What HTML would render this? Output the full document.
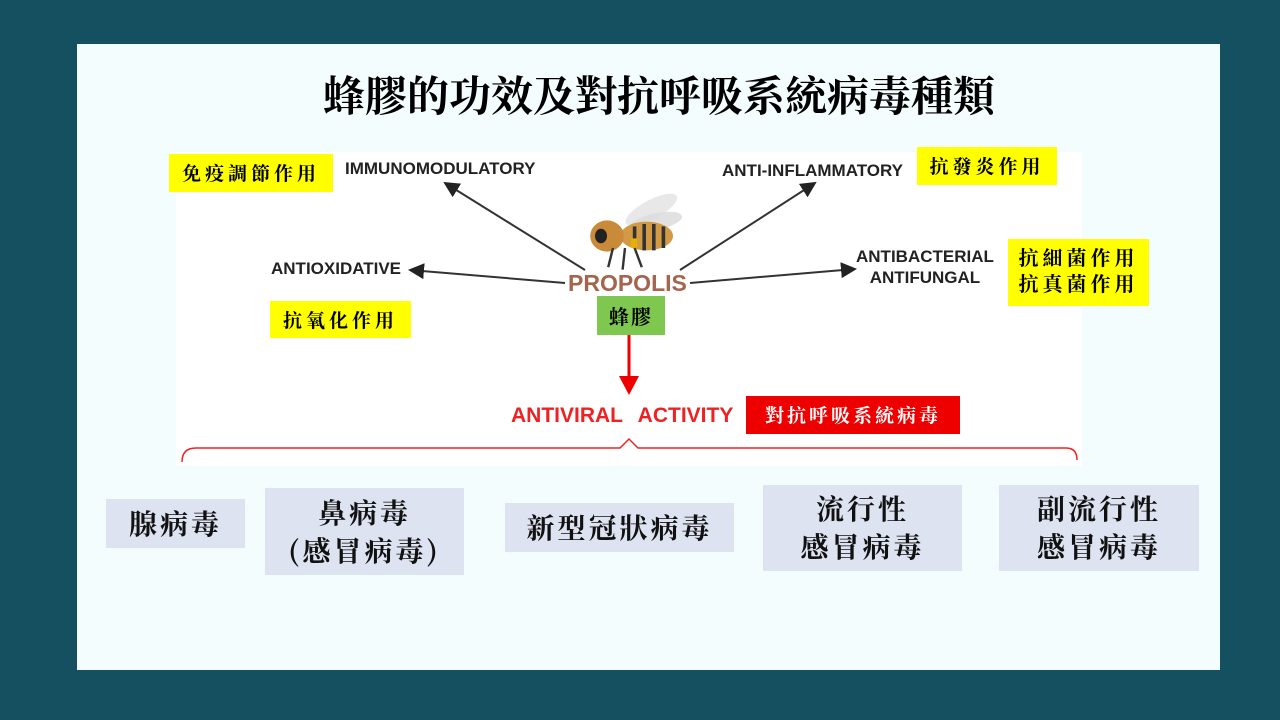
<!DOCTYPE html>
<html><head><meta charset="utf-8"><style>
body{margin:0;width:1280px;height:720px;overflow:hidden;background:#14505f;position:relative;font-family:"Liberation Sans","Noto Sans CJK TC",sans-serif}
.abs{position:absolute}
.panel{left:77px;top:44px;width:1143px;height:626px;background:#f4fdfd}
.inner{left:176px;top:152px;width:906px;height:314px;background:#fff}
.cjk{font-family:"Noto Serif CJK SC","Noto Sans CJK TC",serif;font-weight:700}
.y{background:#ffff00;color:#000;font-size:19px;text-align:center;line-height:1.3;letter-spacing:4px}
.lab{font-weight:700;font-size:17px;color:#222}
.box{background:#dde3f1;color:#111;font-size:28px;letter-spacing:3px;text-align:center;display:flex;align-items:center;justify-content:center;line-height:1.35}
</style></head><body>
<div class="abs panel"></div>
<div class="abs inner"></div>
<div class="abs cjk" style="left:0;width:1318px;top:64px;text-align:center;font-size:42px;color:#000">蜂膠的功效及對抗呼吸系統病毒種類</div>
<svg class="abs" style="left:0;top:0" width="1280" height="720">
<defs><marker id="a" markerWidth="8" markerHeight="8" refX="7" refY="4" orient="auto"><path d="M0,0L8,4L0,8z" fill="#222"/></marker></defs>
<g stroke="#333" stroke-width="2" fill="none">
<line x1="585" y1="270" x2="445" y2="183" marker-end="url(#a)"/>
<line x1="565" y1="283" x2="410" y2="270" marker-end="url(#a)"/>
<line x1="680" y1="270" x2="815" y2="183" marker-end="url(#a)"/>
<line x1="690" y1="283" x2="855" y2="269" marker-end="url(#a)"/>
</g>
<line x1="629" y1="335" x2="629" y2="378" stroke="#e00" stroke-width="3"/>
<path d="M619,376L639,376L629,395z" fill="#e00"/>
<path d="M182,462 Q182,448 196,448 L620,448 L629,439 L638,448 L1066,448 Q1077,448 1077,460" fill="none" stroke="#e22" stroke-width="1.5"/>
<g transform="translate(625,236) scale(1.2)">
<ellipse cx="22" cy="-22" rx="24" ry="8" fill="#e4e4e4" opacity=".85" transform="rotate(-28 22 -22)"/>
<ellipse cx="26" cy="-12" rx="22" ry="7" fill="#dcdcdc" opacity=".85" transform="rotate(-12 26 -12)"/>
<ellipse cx="18" cy="0" rx="22" ry="12" fill="#d39a45"/>
<ellipse cx="-15" cy="0" rx="14" ry="13" fill="#c98a3a"/>
<ellipse cx="-20" cy="0" rx="5" ry="6" fill="#222"/>
<line x1="8" y1="-8" x2="8" y2="10" stroke="#333" stroke-width="3"/>
<line x1="16" y1="-10" x2="16" y2="12" stroke="#333" stroke-width="3"/>
<line x1="24" y1="-10" x2="24" y2="12" stroke="#333" stroke-width="3"/>
<line x1="32" y1="-8" x2="32" y2="10" stroke="#333" stroke-width="3"/>
<rect x="5" y="2" width="5" height="8" fill="#e8b000"/>
<line x1="-10" y1="10" x2="-14" y2="26" stroke="#333" stroke-width="2"/>
<line x1="0" y1="10" x2="-2" y2="28" stroke="#333" stroke-width="2"/>
<line x1="8" y1="10" x2="14" y2="26" stroke="#333" stroke-width="2"/>
</g>
</svg>
<div class="abs y cjk" style="left:169px;top:154px;width:164px;height:38px;line-height:38px">免疫調節作用</div>
<div class="abs lab" style="left:345px;top:159px">IMMUNOMODULATORY</div>
<div class="abs lab" style="left:271px;top:259px">ANTIOXIDATIVE</div>
<div class="abs y cjk" style="left:270px;top:301px;width:141px;height:37px;line-height:37px">抗氧化作用</div>
<div class="abs lab" style="left:722px;top:161px">ANTI-INFLAMMATORY</div>
<div class="abs y cjk" style="left:917px;top:147px;width:140px;height:38px;line-height:38px">抗發炎作用</div>
<div class="abs lab" style="left:856px;top:246px;text-align:center;line-height:21px">ANTIBACTERIAL<br>ANTIFUNGAL</div>
<div class="abs y cjk" style="left:1008px;top:239px;width:141px;height:67px;padding-top:5px;box-sizing:border-box;font-size:20px">抗細菌作用<br>抗真菌作用</div>
<div class="abs" style="left:568px;top:270px;font-size:23px;font-weight:700;color:#a5644e">PROPOLIS</div>
<div class="abs cjk" style="left:597px;top:296px;width:68px;height:39px;line-height:39px;background:#7ec850;text-align:center;font-size:20px;letter-spacing:2px">蜂膠</div>
<div class="abs" style="left:511px;top:404px;font-size:21px;font-weight:700;color:#e22;word-spacing:10px">ANTIVIRAL ACTIVITY</div>
<div class="abs cjk" style="left:746px;top:396px;width:214px;height:38px;line-height:38px;background:#e00;color:#fff;text-align:center;font-size:19px;letter-spacing:3px">對抗呼吸系統病毒</div>
<div class="abs box cjk" style="left:106px;top:499px;width:139px;height:49px">腺病毒</div>
<div class="abs box cjk" style="left:265px;top:488px;width:199px;height:87px">鼻病毒<br>(感冒病毒)</div>
<div class="abs box cjk" style="left:505px;top:503px;width:229px;height:49px">新型冠狀病毒</div>
<div class="abs box cjk" style="left:763px;top:485px;width:199px;height:86px">流行性<br>感冒病毒</div>
<div class="abs box cjk" style="left:999px;top:485px;width:200px;height:86px">副流行性<br>感冒病毒</div>
</body></html>
